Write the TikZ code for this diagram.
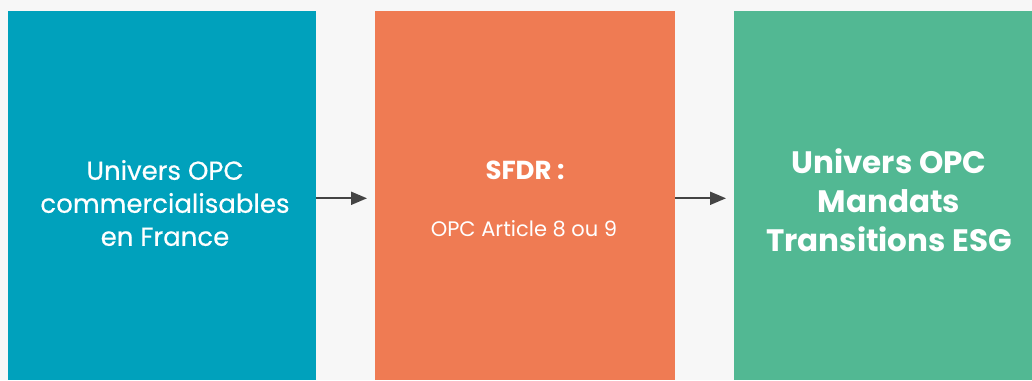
\documentclass[tikz,border=0pt]{standalone}
\usepackage{fontspec}
\setmainfont{Poppins}
\newfontfamily\moyen[FakeBold=0.5]{Poppins}
\usetikzlibrary{arrows.meta}
\definecolor{bleu}{HTML}{00A1BC}
\definecolor{orange}{HTML}{EF7B53}
\definecolor{vert}{HTML}{52B893}
\definecolor{fond}{HTML}{F7F7F7}
\definecolor{fleche}{HTML}{444444}
\tikzset{bloc/.style={minimum height=369pt,inner sep=0pt,anchor=south west},
         texte/.style={text=white,align=center,inner sep=0pt},
         lien/.style={draw=fleche,line width=2pt,-{Triangle[length=16pt,width=13pt]},shorten >=8pt}}
\begin{document}
\begin{tikzpicture}[x=1pt,y=1pt]
		    \fill[fond](0,0)rectangle(1032,380);
		    \useasboundingbox(0,0)rectangle(1032,380);
		    \node[bloc,fill=bleu,minimum width=308pt](univers)at(8,0){};
		    \node[bloc,fill=orange,minimum width=300pt](sfdr)at(375,0){};
		    \node[bloc,fill=vert,minimum width=298pt](mandats)at(734,0){};
		    \node[texte,font=\moyen\fontsize{26}{33}\selectfont](universtexte)at(165,177){Univers OPC\\commercialisables\\en France};
		    \node[texte,font=\bfseries\fontsize{26}{30}\selectfont](sfdrtitre)at(525,210){SFDR :};
		    \node[texte,font=\fontsize{21}{24}\selectfont](sfdrtexte)at(524,151){OPC Article 8 ou 9};
		    \node[texte,font=\bfseries\fontsize{31}{39}\selectfont](mandatstexte)at(889,180){Univers OPC\\Mandats\\Transitions ESG};
		    \draw[lien]([yshift=-3pt]univers.east)--([yshift=-3pt]sfdr.west);
		    \draw[lien]([yshift=-3pt]sfdr.east)--([yshift=-3pt]mandats.west);
		\end{tikzpicture}
\end{document}
